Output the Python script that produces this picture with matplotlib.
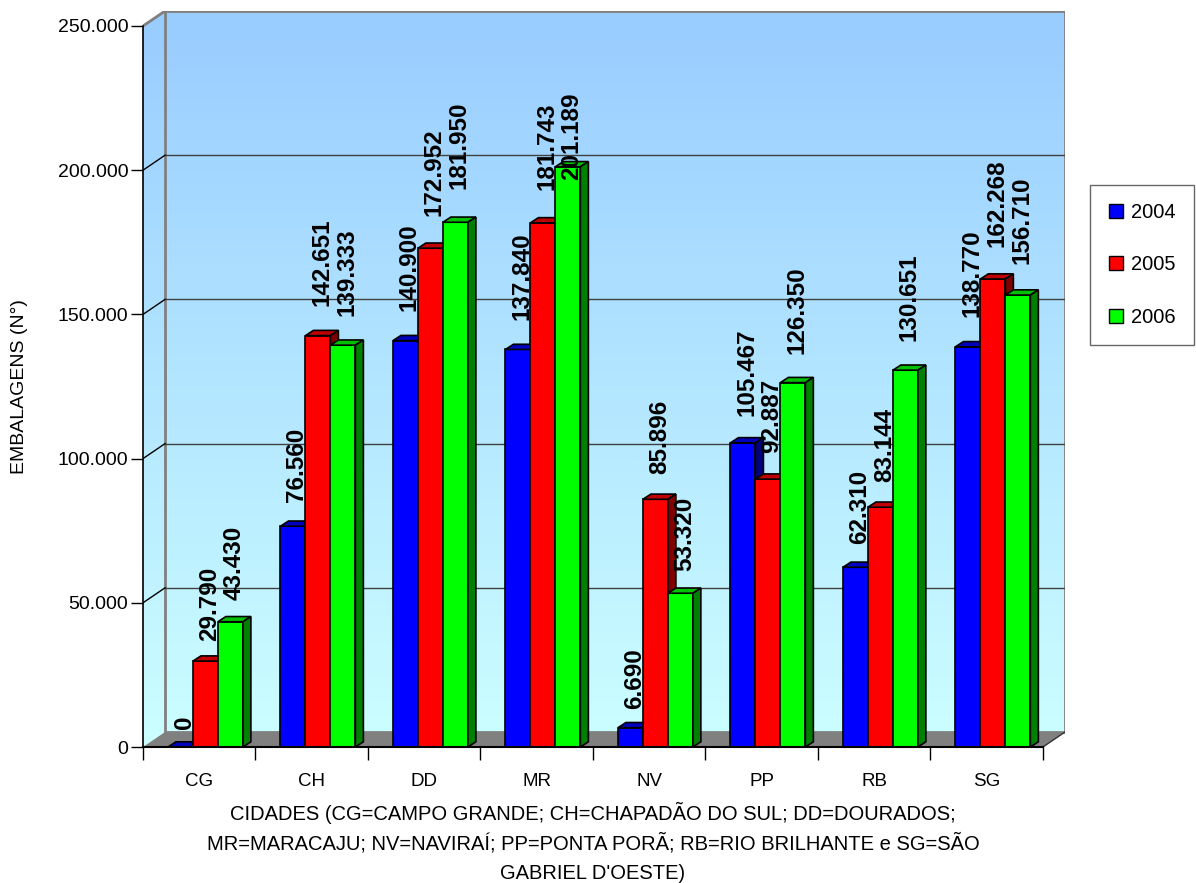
import numpy as np
import matplotlib.pyplot as plt
from matplotlib.patches import Polygon
from matplotlib.colors import LinearSegmentedColormap
from matplotlib.ticker import FuncFormatter
from matplotlib.transforms import offset_copy

plt.rcParams['font.family'] = ['Liberation Sans', 'DejaVu Sans']

cidades = ['CG', 'CH', 'DD', 'MR', 'NV', 'PP', 'RB', 'SG']
anos = ['2004', '2005', '2006']
v2004 = [0, 76560, 140900, 137840, 6690, 105467, 62310, 138770]
v2005 = [29790, 142651, 172952, 181743, 85896, 92887, 83144, 162268]
v2006 = [43430, 139333, 181950, 201189, 53320, 126350, 130651, 156710]
yticks = [0, 50000, 100000, 150000, 200000, 250000]
titulo_x = ["CIDADES (CG=CAMPO GRANDE; CH=CHAPADÃO DO SUL; DD=DOURADOS;",
            "MR=MARACAJU; NV=NAVIRAÍ; PP=PONTA PORÃ; RB=RIO BRILHANTE e SG=SÃO",
            "GABRIEL D'OESTE)"]

# front / top / side colours of each series
cores = [('#0000ff', '#0000c0', '#000080'),
         ('#ff0000', '#c00000', '#800000'),
         ('#00ff00', '#00c000', '#008000')]

def fmt(v):
    return f'{int(v):,}'.replace(',', '.')

# depth of the wall box and of each column (data units)
DX, DY = 0.196, 5200
BDX, BDY = 0.071, 1800
YMAX = 250000
LABEL_TOP = 227000
NC = len(cidades)
BW = 0.222

fig = plt.figure(figsize=(11.96, 8.83), dpi=100)
ax = fig.add_axes([143 / 1196, 136 / 883, 922 / 1196, 736 / 883])
for s in ax.spines.values():
    s.set_visible(False)

# gradient walls
grad = LinearSegmentedColormap.from_list('wall', ['#ccffff', '#99ccff'])
g = np.linspace(0, 1, 256).reshape(-1, 1)
back = Polygon([(DX, DY), (NC + DX, DY), (NC + DX, YMAX + DY), (DX, YMAX + DY)],
               closed=True, facecolor='none', edgecolor='#808080', lw=2, zorder=1)
side = Polygon([(0, 0), (DX, DY), (DX, YMAX + DY), (0, YMAX)],
               closed=True, facecolor='none', edgecolor='none', zorder=1)
for p in (back, side):
    ax.add_patch(p)
    im = ax.imshow(g, cmap=grad, origin='lower', aspect='auto',
                   extent=(0, NC + DX, 0, YMAX + DY), zorder=0)
    im.set_clip_path(p)
ax.set_xlim(0, NC + DX)
ax.set_ylim(0, YMAX + DY)

# grid lines on the back wall and the side wall
for t in yticks[1:-1]:
    ax.plot([DX, NC + DX], [t + DY, t + DY], color='#404040', lw=1, zorder=1.5)
for t in yticks[1:]:
    ax.plot([0, DX], [t, t + DY], color='black', lw=1, zorder=1.5)
ax.plot([0, DX], [YMAX, YMAX + DY], color='#808080', lw=2, zorder=1.6)

# floor
ax.add_patch(Polygon([(0, 0), (NC, 0), (NC + DX, DY), (DX, DY)], closed=True,
                     facecolor='#808080', edgecolor='none', zorder=2))
ax.plot([NC, NC + DX], [0, DY], color='#333333', lw=1, zorder=2.1)

# columns
series = [v2004, v2005, v2006]
labels = []
z = 3
for i in range(NC):
    for k, vals in enumerate(series):
        v = vals[i]
        x0 = i + BW * (k + 1)
        fc, tc, sc = cores[k]
        ax.bar(x0, v, width=BW, align='edge', color=fc, edgecolor='black',
               lw=1.2, zorder=z)
        ax.add_patch(Polygon([(x0, v), (x0 + BW, v), (x0 + BW + BDX, v + BDY),
                              (x0 + BDX, v + BDY)], closed=True, facecolor=tc,
                             edgecolor='black', lw=1.2, zorder=z + 0.1))
        ax.add_patch(Polygon([(x0 + BW, 0), (x0 + BW + BDX, BDY),
                              (x0 + BW + BDX, v + BDY), (x0 + BW, v)],
                             closed=True, facecolor=sc, edgecolor='black',
                             lw=1.2, zorder=z + 0.2))
        z += 1
        # taller columns get their label lifted a bit more
        gap = (18 + v / 12000) * 0.72
        t = ax.text(x0 + (BW + BDX) / 2, v, fmt(v), rotation=90, ha='center',
                    va='bottom', fontsize=17.5, fontweight='bold', zorder=100,
                    clip_on=False,
                    transform=offset_copy(ax.transData, fig=fig, y=gap,
                                          units='points'))
        labels.append((t, x0 + (BW + BDX) / 2))

# keep the labels below the top of the plot area
fig.canvas.draw()
lim = ax.transData.transform((0, LABEL_TOP))[1]
for t, xc in labels:
    bb = t.get_window_extent()
    if bb.y1 > lim:
        top = ax.transData.inverted().transform((0, lim - bb.height))[1]
        t.set_transform(ax.transData)
        t.set_position((xc, top))

# front axes
ax.plot([0, 0], [0, YMAX], color='black', lw=1.2, zorder=50, clip_on=False)
ax.plot([0, NC], [0, 0], color='black', lw=1.5, zorder=50, clip_on=False)

ax.set_yticks(yticks)
ax.yaxis.set_major_formatter(FuncFormatter(lambda v, p: fmt(v)))
ax.tick_params(axis='y', direction='out', length=8.6, width=1, pad=2,
               labelsize=14)
ax.set_xticks([i + 0.5 for i in range(NC)])
ax.set_xticklabels(cidades)
ax.set_xticks(range(NC + 1), minor=True)
ax.tick_params(axis='x', which='major', length=0, pad=19, labelsize=13.5)
ax.tick_params(axis='x', which='minor', direction='out', length=9.4, width=1)

fig.text(20 / 1196, 1 - 387 / 883, 'EMBALAGENS (N°)', rotation=90,
         ha='center', va='center', fontsize=14)
for linha, yb in zip(titulo_x, [820, 850, 879]):
    fig.text(593 / 1196, 1 - yb / 883, linha, ha='center', va='baseline',
             fontsize=14.5)

handles = [plt.Rectangle((0, 0), 1, 1, facecolor=c[0], edgecolor='black', lw=1)
           for c in cores]
leg = fig.legend(handles, anos, loc='center',
                 bbox_to_anchor=(1142 / 1196, 1 - 265 / 883),
                 prop={'size': 14.5},
                 frameon=True, fancybox=False, edgecolor='#404040',
                 handlelength=0.7, handleheight=0.7, handletextpad=0.4,
                 labelspacing=1.65, borderpad=0.9, borderaxespad=0)
leg.get_frame().set_linewidth(1)

fig.savefig('out.png', dpi=100)
